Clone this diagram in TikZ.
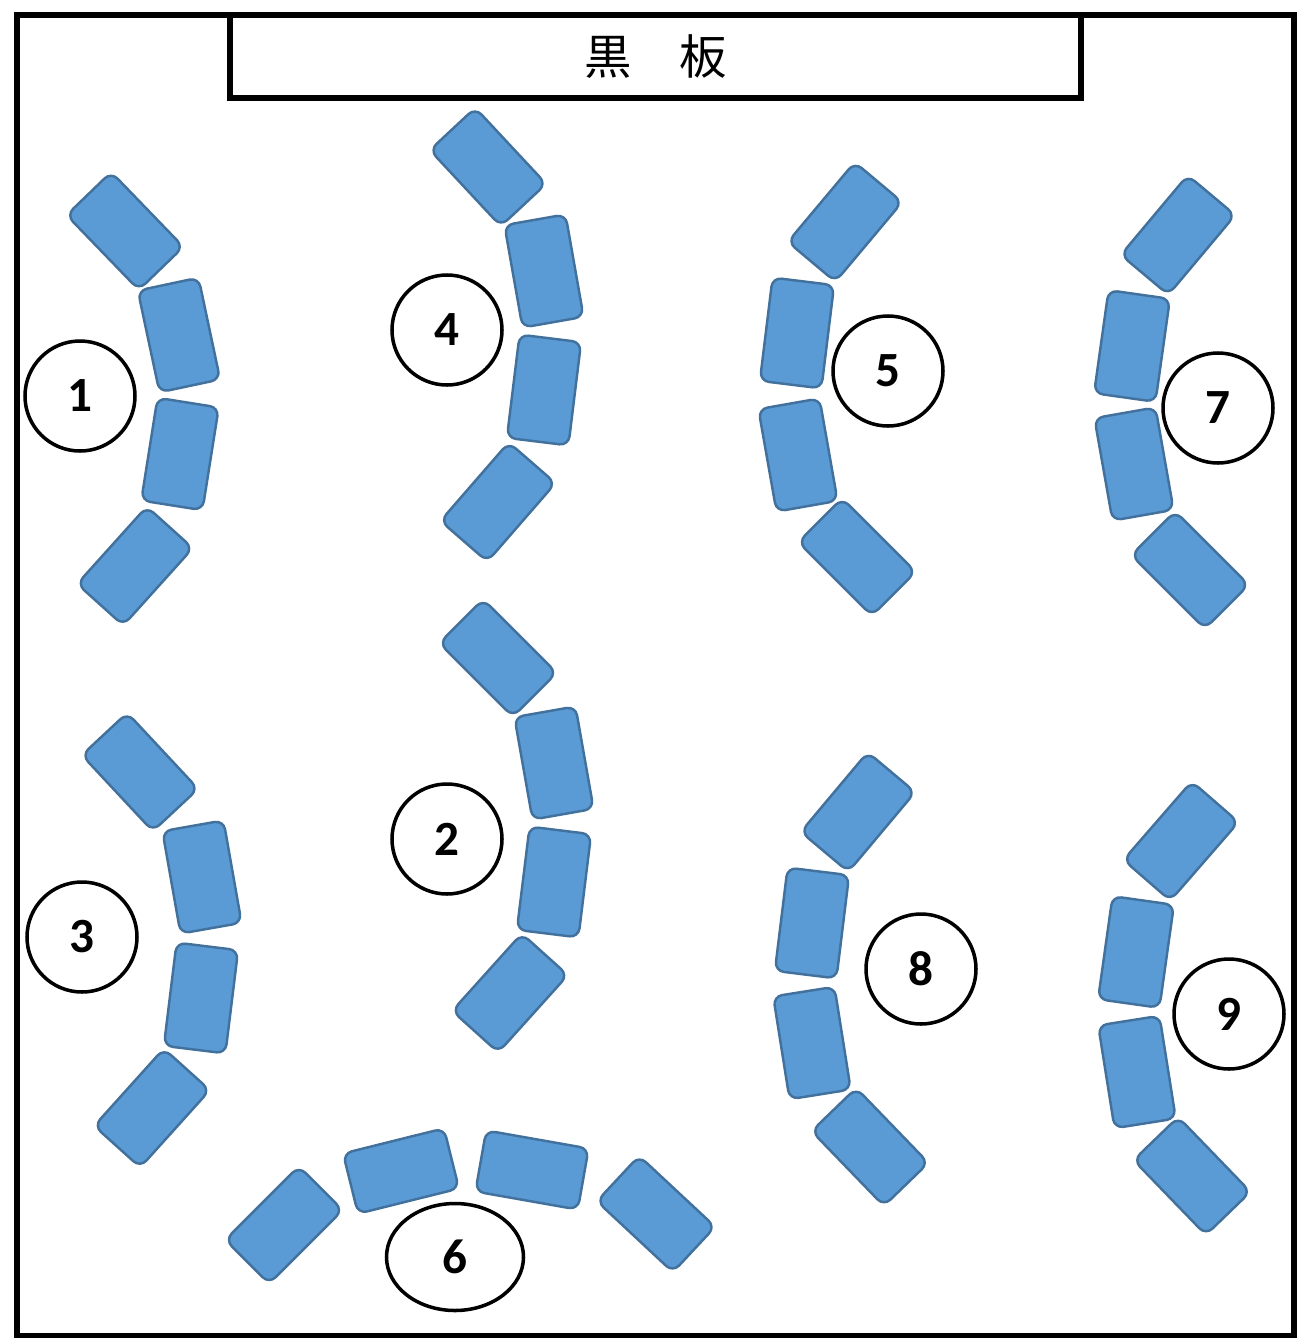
\documentclass[tikz,border=0pt]{standalone}
\usepackage{fontspec}
\setmainfont{Carlito}
\newfontfamily\jpfont{Noto Sans CJK JP}
\usetikzlibrary{shapes.geometric}
\definecolor{deskfill}{HTML}{5B9BD5}
\definecolor{deskline}{HTML}{41719C}
\tikzset{
  desk/.style={draw=deskline, fill=deskfill, line width=0.7pt, rounded corners=0.9mm,
    minimum width=0.62cm, minimum height=1.04cm, inner sep=0pt},
  seat/.style={draw, circle, line width=1pt, minimum size=1.1cm, inner sep=0pt,
    font=\bfseries\fontsize{14}{14}\selectfont},
  board/.style={draw, line width=1.6pt, minimum width=8.51cm, minimum height=0.83cm,
    inner sep=0pt, font=\jpfont\fontsize{13.5}{14}\selectfont}
}
\begin{document}
\begin{tikzpicture}
  \useasboundingbox (0,0) rectangle (13.14,-13.42);
  \draw[line width=1.6pt] (0.17,-0.15) rectangle (12.94,-13.355);
  \node[board] (board) at (6.555,-0.565) {黒　板};

  % desks, four per group
  \foreach \n/\x/\y/\a in {1a/1.25/2.31/44, 1b/1.79/3.35/12, 1c/1.80/4.54/-9, 1d/1.35/5.66/-42,
      4a/4.88/1.67/43, 4b/5.44/2.71/10, 4c/5.44/3.90/-7, 4d/4.98/5.02/-41,
      5a/8.45/2.22/-40, 5b/7.97/3.33/-7, 5c/7.98/4.55/10, 5d/8.57/5.57/45,
      7a/11.78/2.35/-40, 7b/11.32/3.46/-8, 7c/11.34/4.64/10, 7d/11.90/5.70/45,
      3a/1.40/7.72/43, 3b/2.02/8.77/10, 3c/2.01/9.98/-7, 3d/1.52/11.08/-42,
      2a/4.98/6.58/45, 2b/5.54/7.63/10, 2c/5.54/8.82/-7, 2d/5.10/9.93/-42,
      8a/8.58/8.12/-40, 8b/8.12/9.23/-7, 8c/8.12/10.43/9, 8d/8.70/11.47/44,
      9a/11.81/8.41/-41, 9b/11.36/9.52/-8, 9c/11.37/10.72/9, 9d/11.92/11.76/44,
      6a/2.84/12.25/-45, 6b/4.01/11.71/-76, 6c/5.32/11.70/80, 6d/6.56/12.14/47}
    \node[desk, rotate=\a] (d\n) at (\x,-\y) {};

  % group numbers
  \foreach \g/\x/\y in {1/0.80/3.96, 2/4.47/8.39, 3/0.82/9.37, 4/4.47/3.30,
      5/8.88/3.71, 7/12.18/4.08, 8/9.21/9.69, 9/12.29/10.14}
    \node[seat] (g\g) at (\x,-\y) {\g};
  \node[seat, ellipse, minimum width=1.37cm, minimum height=1.07cm] (g6) at (4.55,-12.57) {6};
\end{tikzpicture}
\end{document}
